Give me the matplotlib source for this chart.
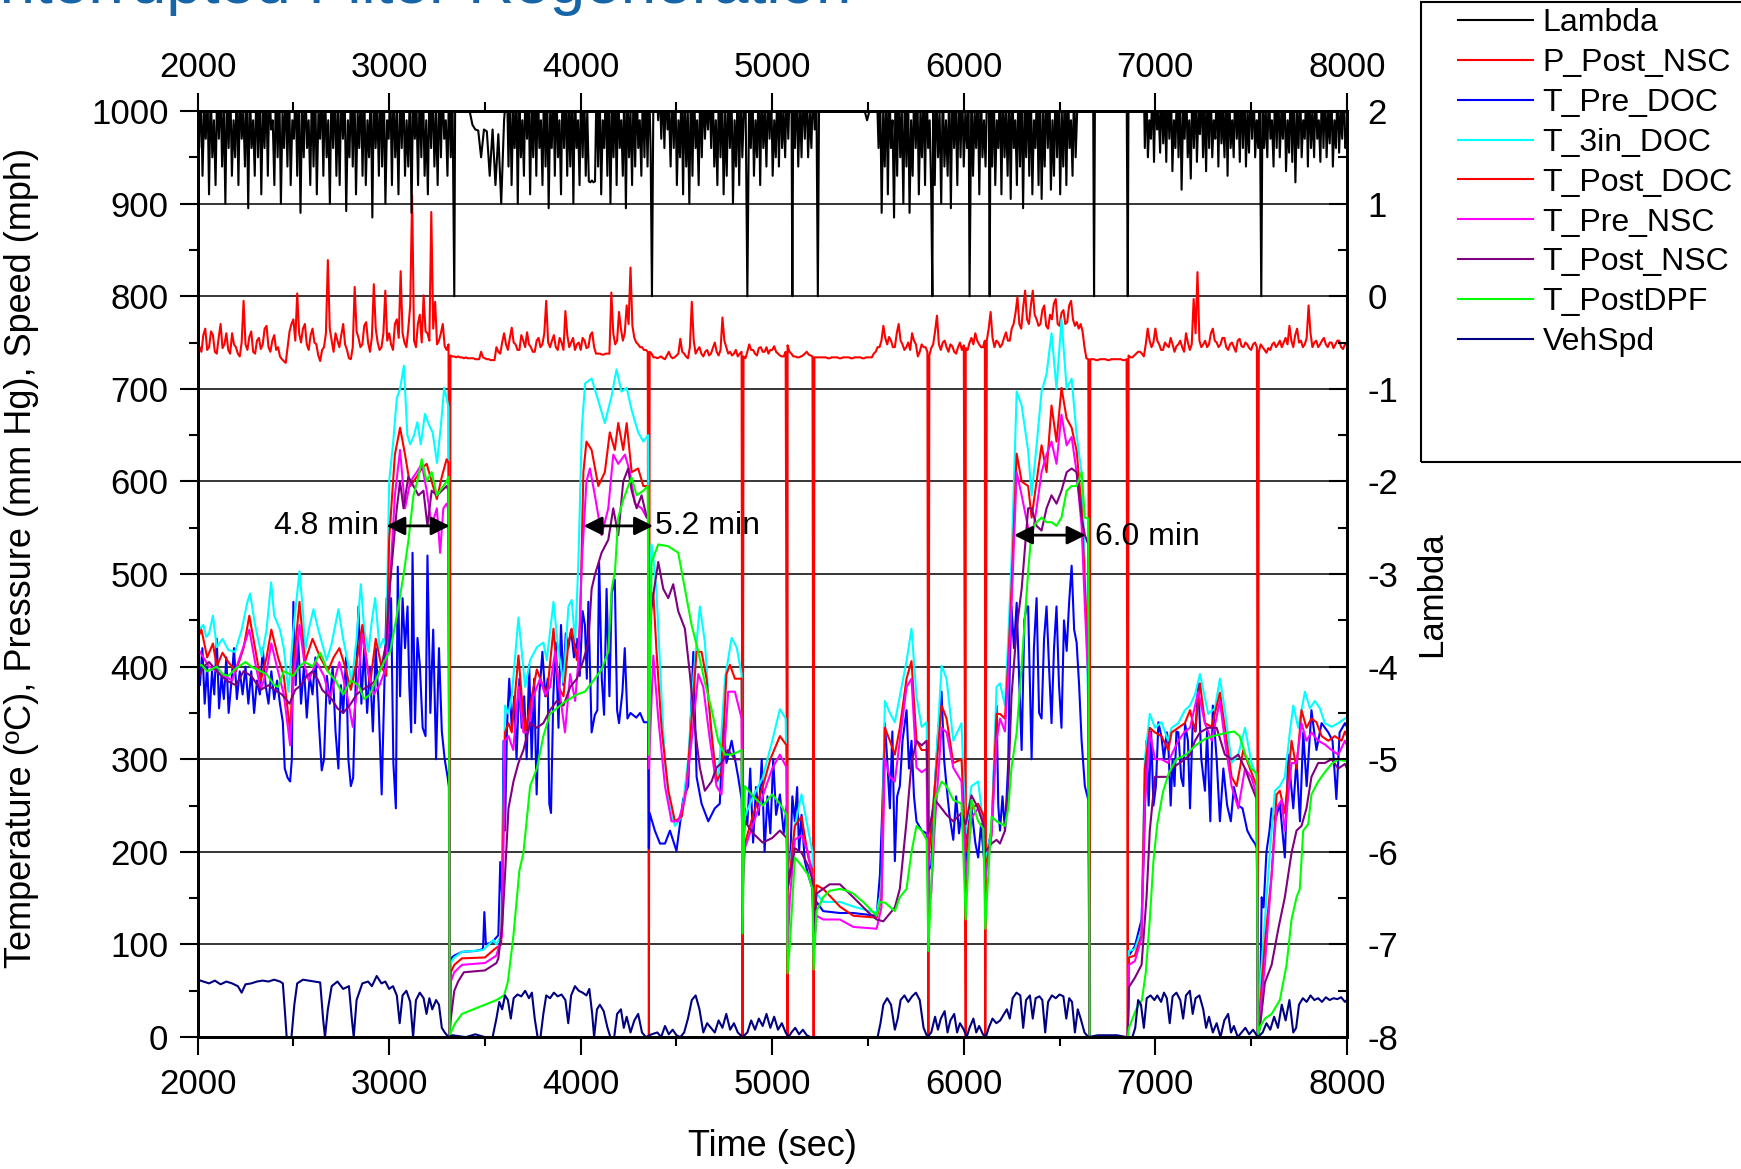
import numpy as np
import matplotlib
matplotlib.use('Agg')
import matplotlib.pyplot as plt
from matplotlib.patches import Rectangle
from matplotlib.ticker import MultipleLocator

plt.rcParams['font.family'] = ['Liberation Sans', 'DejaVu Sans']
plt.rcParams['axes.unicode_minus'] = False

# ---- lambda (right axis), spiky segments between logger dropouts ----
lam_seg1 = [2.3, 1.6, 2.3, 1.3, 2.0, 1.7, 2.3, 1.1, 2.3, 1.5, 1.9, 1.2, 2.3, 1.7, 2.3, 1.4, 2.1, 1.0, 2.3, 1.6,
            2.3, 1.3, 1.9, 1.5, 2.3, 1.2, 2.3, 1.7, 2.0, 1.4, 2.3, 0.95, 2.3, 1.6, 1.9, 1.3, 2.3, 1.5, 2.3, 1.1,
            2.1, 1.6, 2.3, 1.3, 2.3, 1.8, 1.9, 1.2, 2.3, 1.5, 2.3, 1.0, 2.0, 1.6, 2.3, 1.4, 2.3, 1.2, 1.9, 1.7,
            2.3, 1.3, 2.3, 0.9, 2.1, 1.5, 2.3, 1.6, 1.9, 1.2, 2.3, 1.4, 2.3, 1.1, 2.0, 1.7, 2.3, 1.3, 2.3, 1.5,
            1.9, 1.0, 2.3, 1.6, 2.3, 1.3, 2.1, 1.2, 2.3, 1.7, 2.3, 0.92, 1.9, 1.5, 2.3, 1.4, 2.3, 1.1, 2.0, 1.6,
            2.3, 1.3, 2.3, 1.2, 1.9, 1.5, 2.3, 0.85, 2.3, 1.6, 2.1, 1.3, 2.3, 1.4, 2.3, 1.0, 1.9, 1.7, 2.3, 1.2,
            2.3, 1.5, 2.0, 1.1, 2.3, 1.6, 2.3, 1.3, 1.9, 1.4, 2.3, 0.9, 2.3, 1.7, 2.1, 1.2, 2.3, 1.5, 2.3, 1.3,
            1.9, 1.1, 2.3, 1.6, 2.3, 1.4, 2.0, 1.2, 2.3, 1.5, 2.3, 1.7, 1.9, 1.3, 2.3, 1.5, 2.3]
lam_seg2 = [2.3, 2.3, 2.3, 2.3, 2.3, 2.0, 1.85, 1.8, 1.79, 1.5, 1.8, 1.78, 1.3, 1.8, 1.2, 1.75, 1.0, 1.9]
lam_seg3 = [2.3, 1.4, 2.3, 1.2, 2.0, 1.6, 2.3, 1.0, 2.3, 1.5, 1.9, 1.3, 2.3, 1.7, 2.3, 1.1, 2.1, 1.5, 2.3, 1.3,
            2.3, 1.6, 1.9, 1.2, 2.3, 1.4, 2.3, 0.95, 2.0, 1.6, 2.3, 1.3, 2.3, 1.5, 1.9, 1.1, 2.3, 1.6, 2.3, 1.3,
            2.1, 1.4, 2.3, 1.0, 2.3, 1.6, 1.9, 1.2, 2.3, 1.5, 2.3, 1.3, 2.0, 1.24, 1.23, 1.25, 1.23, 1.24, 2.3, 1.4,
            2.3, 1.1, 1.9, 1.6, 2.3, 1.3, 2.3, 1.0, 2.1, 1.5, 2.3, 1.2, 2.3, 1.6, 1.9, 1.3, 2.3, 0.95, 2.3, 1.5,
            2.0, 1.2, 2.3, 1.4, 2.3, 1.6, 1.9, 1.3, 2.3, 1.5, 2.3, 1.4, 2.3, 1.6]
lam_seg4 = [2.3, 2.0, 2.3, 1.9, 2.3, 1.7, 2.3, 1.6, 2.3, 1.8, 2.0, 1.4, 2.3, 1.6, 2.3, 1.2, 1.9, 1.5, 2.3, 1.1,
            2.3, 1.4, 2.0, 1.0, 2.3, 1.3, 2.3, 1.6, 1.9, 1.2, 2.3, 1.5, 2.3, 1.7, 2.1, 1.8, 2.3, 1.6, 2.3, 1.4,
            1.9, 1.2, 2.3, 1.5, 2.3, 1.1, 2.0, 1.3, 2.3, 1.6, 2.3, 1.0, 1.9, 1.4, 2.3, 1.2, 2.3, 1.5, 2.0, 2.3]
lam_seg5 = [2.3, 1.6, 2.3, 1.3, 1.9, 1.5, 2.3, 1.2, 2.3, 1.6, 2.0, 1.4, 2.3, 1.7, 2.3, 1.3, 1.9, 1.5, 2.3, 1.4,
            2.3, 1.6, 2.0, 1.5, 2.3, 1.7, 2.3, 2.3]
lam_seg6 = [2.3, 1.6, 2.3, 1.4, 2.1, 1.5, 2.3, 1.7, 2.3, 1.5, 2.0, 1.6, 2.3, 1.8, 2.3]
lam_seg7 = [2.3, 2.3, 2.3, 2.3, 2.3, 1.9, 2.3]
lam_seg8 = [1.6, 2.3, 0.9, 2.0, 1.4, 2.3, 1.1, 2.3, 1.6, 1.9, 0.85, 2.3, 1.3, 2.3, 1.5, 2.0, 1.0, 2.3, 1.4, 2.3,
            0.9, 1.9, 1.3, 2.3, 1.6, 2.3, 1.1, 2.0, 1.5, 2.3, 1.2, 2.3, 1.6, 1.9, 1.1]
lam_seg9 = [2.3, 1.2, 2.3, 1.5, 2.0, 1.0, 2.3, 1.4, 1.9, 1.3, 2.3, 0.95, 2.3, 1.6, 2.1, 1.2, 2.3, 1.5, 2.3, 1.4,
            2.0, 1.6, 2.3]
lam_seg10 = [2.3, 1.3, 2.0, 1.6, 2.3, 1.1, 2.3, 1.5, 1.9, 1.4, 2.3, 2.3]
lam_seg11 = [2.3, 1.4, 2.3, 1.2, 1.9, 1.6, 2.3, 1.1, 2.3, 1.5, 2.0, 1.3, 2.3, 1.05, 2.3, 1.6, 1.9, 1.2, 2.3, 1.4,
             2.3, 0.95, 2.1, 1.5, 2.3, 1.3, 2.3, 1.1, 1.9, 1.6, 2.3, 1.2, 2.3, 1.05, 2.0, 1.4, 2.3, 1.6, 2.3, 1.15,
             1.9, 1.3, 2.3, 1.5, 2.3, 1.1, 2.0, 1.4, 2.3, 1.2, 2.3, 1.6, 1.9, 1.3, 2.3, 1.5, 2.0, 2.3]
lam_seg12 = [2.3, 2.3]
lam_seg13 = [2.3, 2.3]
lam_seg14 = [2.3, 2.3, 2.3]
lam_seg15 = [1.6, 2.3, 1.5, 1.9, 1.7, 2.3, 1.45, 2.3, 1.8, 2.0, 1.55, 2.3, 1.65, 2.1, 1.45, 2.3, 1.7, 2.3, 1.35, 1.9,
             1.6, 2.3, 1.5, 2.3, 1.15, 2.0, 1.7, 2.3, 1.5, 1.9, 1.27, 2.3, 1.6, 2.3, 1.45, 2.0, 1.75, 2.3, 1.5, 2.1,
             1.35, 2.3, 1.6, 2.3, 1.5, 1.9, 1.7, 2.3, 1.4, 2.3, 1.65, 2.0, 1.5, 2.3, 1.3, 2.3, 1.6, 1.9, 1.5, 2.3,
             1.7, 2.1, 1.45, 2.3, 1.6, 2.3, 1.4, 2.0, 1.55, 2.3, 1.7, 2.3, 1.5, 1.9, 1.6, 2.3]
lam_seg16 = [2.3, 1.6, 2.0, 1.5, 2.3, 1.7, 1.9, 1.4, 2.3, 1.6, 2.3, 1.5, 2.0, 1.7, 2.3, 1.35, 1.9, 1.55, 2.3, 1.45,
             2.3, 1.23, 2.0, 1.6, 2.3, 1.5, 1.9, 1.7, 2.3, 1.4, 2.3, 1.6, 2.0, 1.5, 2.3, 1.7, 1.9, 1.45, 2.3, 1.6,
             2.3, 1.5, 2.0, 1.65, 2.3, 1.4, 1.9, 1.6, 2.3, 1.55, 2.0, 1.7, 2.3, 1.6, 1.8]
lam_segments = [(2000, 3330, lam_seg1), (3345, 3600, lam_seg2), (3615, 4365, lam_seg3),
                (4380, 4860, lam_seg4), (4880, 5100, lam_seg5), (5110, 5230, lam_seg6),
                (5245, 5545, lam_seg7), (5555, 5830, lam_seg8), (5840, 6025, lam_seg9),
                (6040, 6130, lam_seg10), (6140, 6600, lam_seg11), (6610, 6675, lam_seg12),
                (6685, 6850, lam_seg13), (6860, 6940, lam_seg14), (6945, 7545, lam_seg15),
                (7560, 8000, lam_seg16)]
lam_drops = [3340, 4372, 4870, 5105, 5238, 5836, 6030, 6135, 6680, 6856, 7553]

# ---- post-NSC pressure (mm Hg), every 10 s from 2000 to 8000 ----
p_post_nsc = [
    752, 745, 740, 758, 765, 742, 745, 762, 758, 740, 738, 755, 770, 744, 748, 760, 742, 738, 760, 748,
    745, 738, 735, 750, 795, 748, 742, 756, 762, 740, 738, 752, 755, 743, 748, 765, 768, 745, 740, 752,
    758, 742, 745, 735, 732, 730, 728, 745, 762, 770, 775, 752, 803, 760, 750, 765, 770, 748, 742, 758,
    765, 750, 748, 736, 730, 742, 745, 760, 839, 765, 752, 740, 760, 752, 745, 758, 770, 748, 742, 733,
    732, 745, 810, 762, 755, 745, 748, 768, 772, 750, 740, 756, 813, 765, 750, 742, 745, 760, 806, 752,
    760, 748, 742, 770, 775, 755, 827, 760, 750, 745, 765, 790, 909, 752, 745, 770, 780, 750, 801, 762,
    760, 752, 891, 765, 794, 748, 752, 760, 770, 746, 742, 748, 736, 735, 735, 734, 735, 734, 734, 733,
    734, 733, 733, 733, 733, 732, 732, 732, 740, 734, 733, 732, 732, 731, 731, 731, 745, 740, 738, 750,
    760, 748, 742, 755, 766, 750, 748, 742, 742, 758, 752, 745, 761, 748, 745, 740, 740, 752, 755, 745,
    748, 760, 795, 750, 745, 752, 758, 745, 742, 755, 750, 742, 784, 758, 745, 750, 755, 742, 748, 750,
    742, 755, 752, 744, 745, 758, 761, 745, 738, 738, 738, 737, 737, 738, 738, 738, 804, 760, 748, 752,
    783, 765, 752, 760, 790, 770, 831, 768, 755, 750, 748, 745, 745, 742, 742, 740, 740, 738, 734, 734,
    733, 734, 735, 733, 732, 736, 740, 735, 733, 734, 736, 738, 754, 740, 738, 735, 733, 745, 794, 752,
    738, 742, 745, 738, 735, 740, 742, 736, 738, 744, 750, 740, 736, 742, 777, 752, 745, 738, 740, 736,
    738, 742, 735, 738, 740, 735, 733, 740, 748, 742, 742, 738, 736, 744, 745, 740, 740, 745, 738, 742,
    742, 746, 740, 738, 736, 735, 735, 740, 747, 740, 738, 735, 735, 734, 734, 735, 736, 738, 740, 737,
    736, 735, 734, 734, 734, 734, 734, 734, 734, 733, 733, 734, 734, 734, 734, 733, 733, 734, 734, 734,
    734, 733, 733, 734, 734, 734, 734, 733, 733, 734, 734, 734, 734, 738, 740, 745, 745, 752, 768, 755,
    748, 756, 752, 745, 745, 760, 770, 752, 748, 742, 745, 750, 742, 760, 752, 748, 735, 740, 748, 745,
    745, 740, 736, 744, 748, 762, 779, 748, 742, 750, 752, 745, 740, 748, 746, 740, 738, 745, 750, 742,
    747, 744, 742, 750, 755, 748, 760, 752, 748, 745, 745, 752, 752, 765, 783, 755, 745, 752, 750, 745,
    748, 755, 761, 752, 752, 765, 770, 782, 799, 770, 765, 788, 806, 775, 770, 790, 806, 780, 775, 768,
    770, 785, 790, 768, 765, 780, 775, 792, 797, 770, 768, 782, 785, 770, 772, 790, 795, 775, 768, 772,
    765, 770, 762, 745, 733, 732, 732, 732, 732, 731, 731, 732, 732, 732, 732, 731, 731, 732, 732, 732,
    732, 732, 732, 731, 731, 732, 736, 734, 734, 736, 738, 740, 740, 738, 735, 748, 765, 752, 745, 750,
    765, 752, 748, 742, 742, 750, 747, 745, 755, 748, 740, 746, 748, 752, 745, 740, 760, 750, 742, 748,
    797, 760, 826, 752, 745, 748, 752, 745, 748, 760, 765, 752, 750, 745, 748, 755, 755, 745, 742, 748,
    750, 745, 740, 752, 754, 746, 745, 750, 748, 744, 742, 748, 750, 745, 740, 748, 745, 742, 739, 744,
    742, 748, 750, 745, 748, 752, 745, 750, 755, 748, 768, 752, 745, 758, 765, 750, 752, 745, 748, 755,
    790, 760, 745, 750, 752, 745, 748, 752, 755, 748, 745, 750, 750, 744, 748, 752, 752, 745, 743, 748,
    747]
p_drops = [3316, 4356, 4845, 5080, 5216, 5815, 6010, 6112, 6657, 6856, 7535]

# ---- temperatures (degC) and speed (mph) as (time, value) ----
t_pre_doc = [
    (2000, 410), (2012, 380), (2025, 420), (2037, 360), (2050, 400), (2062, 345), (2075, 395), (2087, 370),
    (2100, 430), (2112, 355), (2125, 390), (2137, 365), (2150, 410), (2162, 350), (2175, 380), (2190, 420),
    (2205, 365), (2220, 395), (2235, 370), (2250, 400), (2265, 360), (2280, 395), (2295, 350), (2310, 385),
    (2325, 370), (2340, 420), (2355, 380), (2370, 360), (2385, 395), (2400, 365), (2415, 385), (2430, 360),
    (2445, 340), (2455, 290), (2470, 280), (2483, 276), (2492, 300), (2500, 470), (2512, 380), (2525, 430),
    (2540, 360), (2555, 400), (2570, 345), (2585, 390), (2600, 370), (2615, 410), (2630, 350), (2648, 288),
    (2660, 300), (2675, 390), (2690, 360), (2705, 400), (2720, 330), (2735, 290), (2748, 380), (2760, 350),
    (2775, 410), (2787, 300), (2800, 271), (2812, 280), (2825, 380), (2840, 465), (2855, 360), (2870, 420),
    (2885, 350), (2900, 400), (2915, 330), (2930, 420), (2945, 360), (2961, 262), (2975, 380), (2987, 474),
    (3000, 416), (3010, 474), (3022, 296), (3035, 247), (3045, 508), (3057, 368), (3070, 474), (3083, 420),
    (3096, 465), (3105, 380), (3115, 329), (3122, 523), (3135, 339), (3148, 431), (3160, 402), (3175, 334),
    (3190, 325), (3200, 520), (3215, 350), (3230, 440), (3245, 300), (3260, 420), (3275, 330), (3290, 300),
    (3305, 281), (3312, 270), (3316, 0),
    (3322, 85), (3340, 88), (3380, 92), (3450, 93), (3490, 95), (3497, 135), (3505, 100), (3540, 103),
    (3570, 110), (3580, 189), (3590, 150), (3597, 320), (3605, 223), (3615, 334), (3627, 387), (3640, 334),
    (3653, 368), (3665, 300), (3680, 387), (3692, 334), (3705, 368), (3718, 300), (3731, 402), (3744, 300),
    (3757, 387), (3770, 262), (3785, 373), (3800, 416), (3815, 368), (3828, 387), (3836, 252), (3845, 242),
    (3857, 368), (3870, 426), (3884, 334), (3897, 445), (3910, 380), (3922, 436), (3935, 420), (3950, 440),
    (3965, 410), (3980, 430), (3995, 390), (4010, 460), (4022, 445), (4032, 387), (4040, 470), (4057, 329),
    (4074, 348), (4087, 353), (4096, 513), (4110, 387), (4122, 348), (4135, 484), (4150, 368), (4162, 479),
    (4178, 494), (4190, 353), (4200, 339), (4218, 373), (4230, 420), (4244, 344), (4260, 350), (4290, 345),
    (4310, 350), (4330, 340), (4352, 340), (4356, 204), (4360, 242), (4387, 223), (4414, 209), (4440, 209),
    (4466, 223), (4500, 201), (4535, 257), (4561, 271), (4588, 416), (4605, 281), (4631, 252), (4666, 233),
    (4700, 247), (4726, 252), (4744, 339), (4761, 296), (4788, 320), (4822, 281), (4840, 257), (4845, 200),
    (4857, 247), (4870, 230), (4885, 290), (4900, 210), (4915, 270), (4930, 240), (4945, 300), (4960, 200),
    (4975, 260), (4990, 220), (5005, 300), (5020, 240), (5040, 262), (5060, 220), (5075, 250), (5080, 175),
    (5092, 180), (5105, 260), (5118, 233), (5130, 270), (5140, 200), (5153, 240), (5170, 190), (5188, 175),
    (5210, 160), (5216, 110), (5231, 146), (5266, 136), (5353, 134), (5423, 134), (5545, 131), (5562, 175),
    (5575, 250), (5588, 339), (5600, 300), (5614, 247), (5627, 330), (5640, 190), (5652, 260), (5666, 271),
    (5680, 320), (5701, 353), (5714, 290), (5727, 320), (5740, 260), (5753, 233), (5780, 223), (5806, 220),
    (5815, 180), (5830, 185), (5849, 271), (5866, 330), (5884, 373), (5897, 300), (5910, 271), (5925, 240),
    (5945, 213), (5960, 260), (5975, 220), (5988, 242), (6010, 190), (6025, 230), (6040, 247), (6060, 210),
    (6075, 194), (6090, 230), (6102, 200), (6112, 180), (6130, 209), (6145, 223), (6160, 300), (6171, 358),
    (6180, 250), (6189, 223), (6202, 260), (6215, 223), (6232, 296), (6240, 400), (6249, 465), (6262, 420),
    (6276, 469), (6290, 380), (6302, 310), (6316, 450), (6328, 465), (6336, 465), (6345, 380), (6354, 300),
    (6366, 420), (6380, 474), (6393, 350), (6406, 344), (6419, 430), (6432, 465), (6445, 400), (6458, 339),
    (6471, 420), (6484, 465), (6497, 380), (6510, 334), (6523, 450), (6537, 417), (6550, 470), (6563, 509),
    (6576, 440), (6589, 426), (6602, 380), (6615, 320), (6632, 271), (6650, 256), (6657, 0), (6850, 0),
    (6856, 0), (6862, 88), (6893, 98), (6928, 127), (6940, 200), (6954, 320), (6965, 250), (6978, 330),
    (6990, 250), (7003, 271), (7016, 340), (7032, 324), (7045, 300), (7060, 329), (7067, 320), (7080, 250),
    (7090, 300), (7100, 271), (7110, 330), (7120, 329), (7135, 280), (7146, 271), (7155, 339), (7170, 320),
    (7181, 247), (7195, 340), (7210, 330), (7224, 382), (7240, 300), (7259, 266), (7270, 330), (7287, 233),
    (7300, 358), (7320, 300), (7337, 233), (7355, 290), (7375, 250), (7394, 233), (7410, 270), (7433, 250),
    (7455, 247), (7480, 223), (7500, 215), (7520, 209), (7530, 204), (7535, 0), (7546, 20), (7555, 151),
    (7565, 140), (7580, 200), (7596, 223), (7607, 247), (7624, 233), (7650, 252), (7676, 194), (7694, 305),
    (7720, 247), (7737, 300), (7755, 233), (7772, 329), (7790, 271), (7815, 353), (7841, 310), (7868, 339),
    (7903, 329), (7925, 320), (7945, 257), (7962, 329), (7990, 339), (8000, 335)]

t_3in_doc = [
    (2000, 477), (2010, 440), (2030, 445), (2045, 432), (2060, 436), (2080, 455), (2100, 421), (2130, 430),
    (2160, 418), (2196, 416), (2230, 440), (2260, 470), (2274, 479), (2300, 445), (2335, 411), (2360, 440),
    (2384, 491), (2400, 455), (2430, 440), (2450, 420), (2474, 373), (2500, 440), (2532, 503), (2550, 460),
    (2561, 416), (2580, 440), (2605, 462), (2630, 440), (2674, 407), (2700, 425), (2735, 462), (2760, 430),
    (2805, 383), (2830, 430), (2852, 489), (2870, 440), (2892, 416), (2910, 450), (2927, 474), (2950, 420),
    (2970, 430), (2985, 420), (3000, 600), (3020, 640), (3040, 690), (3057, 700), (3077, 725), (3095, 650),
    (3110, 640), (3130, 650), (3147, 664), (3165, 640), (3187, 673), (3210, 660), (3227, 653), (3250, 620),
    (3270, 660), (3287, 701), (3300, 690), (3310, 680), (3316, 0),
    (3322, 80), (3340, 86), (3380, 92), (3440, 93), (3490, 94), (3520, 100), (3544, 105), (3560, 100),
    (3585, 110), (3605, 358), (3623, 349), (3640, 368), (3675, 453), (3692, 416), (3710, 378), (3736, 407),
    (3771, 421), (3805, 426), (3823, 407), (3858, 470), (3884, 416), (3910, 383), (3936, 465), (3953, 472),
    (3971, 426), (3988, 513), (4006, 658), (4023, 706), (4057, 711), (4092, 687), (4126, 663), (4161, 692),
    (4187, 721), (4213, 697), (4240, 701), (4266, 677), (4300, 653), (4327, 643), (4352, 650), (4356, 450),
    (4370, 532), (4387, 503), (4396, 479), (4422, 368), (4440, 296), (4466, 247), (4492, 228), (4527, 238),
    (4561, 300), (4588, 387), (4622, 465), (4648, 427), (4683, 320), (4718, 276), (4753, 387), (4788, 431),
    (4814, 421), (4840, 392), (4845, 200), (4857, 238), (4900, 260), (4950, 280), (5000, 320), (5040, 354),
    (5070, 344), (5080, 180), (5092, 185), (5120, 230), (5153, 262), (5188, 223), (5210, 200), (5216, 120),
    (5231, 155), (5266, 146), (5353, 146), (5423, 141), (5545, 134), (5570, 160), (5588, 363), (5614, 350),
    (5640, 340), (5666, 368), (5701, 406), (5727, 441), (5753, 368), (5780, 335), (5806, 340), (5815, 200),
    (5849, 271), (5884, 401), (5910, 387), (5945, 320), (5988, 339), (6010, 220), (6040, 271), (6075, 276),
    (6102, 230), (6112, 190), (6145, 223), (6171, 378), (6189, 382), (6215, 358), (6232, 431), (6249, 513),
    (6276, 697), (6302, 682), (6336, 633), (6354, 585), (6380, 639), (6406, 697), (6432, 716), (6458, 760),
    (6484, 700), (6510, 775), (6537, 700), (6563, 711), (6589, 650), (6615, 609), (6632, 513), (6650, 353),
    (6657, 0), (6850, 0),
    (6856, 0), (6862, 93), (6893, 95), (6928, 116), (6945, 300), (6971, 349), (6998, 334), (7032, 340),
    (7067, 320), (7085, 334), (7120, 339), (7154, 353), (7181, 358), (7207, 370), (7233, 392), (7276, 349),
    (7311, 355), (7337, 387), (7363, 353), (7398, 296), (7433, 305), (7468, 334), (7502, 296), (7529, 281),
    (7535, 0), (7546, 54), (7572, 127), (7598, 199), (7624, 266), (7650, 271), (7676, 281), (7702, 329),
    (7720, 358), (7746, 334), (7781, 373), (7807, 355), (7833, 363), (7859, 355), (7885, 339), (7920, 335),
    (7955, 339), (7990, 344), (8000, 345)]

t_post_doc = [
    (2000, 430), (2020, 440), (2050, 410), (2080, 425), (2100, 400), (2130, 415), (2160, 405), (2200, 395),
    (2240, 420), (2270, 455), (2300, 420), (2330, 385), (2360, 410), (2385, 440), (2420, 410), (2450, 390),
    (2483, 330), (2500, 400), (2532, 470), (2560, 405), (2600, 430), (2640, 410), (2680, 395), (2710, 410),
    (2740, 420), (2770, 400), (2800, 375), (2830, 405), (2860, 445), (2880, 410), (2900, 380), (2930, 430),
    (2960, 400), (2985, 390), (3000, 537), (3030, 629), (3057, 658), (3083, 629), (3110, 595), (3144, 605),
    (3170, 614), (3196, 619), (3222, 600), (3249, 581), (3275, 605), (3300, 624), (3310, 620), (3316, 0),
    (3322, 70), (3340, 78), (3380, 85), (3500, 86), (3550, 95), (3585, 100), (3605, 329), (3623, 339),
    (3640, 329), (3675, 412), (3692, 368), (3710, 329), (3736, 358), (3771, 397), (3805, 378), (3823, 368),
    (3858, 441), (3884, 378), (3910, 368), (3936, 426), (3953, 441), (3980, 407), (3997, 445), (4014, 610),
    (4030, 643), (4057, 634), (4092, 595), (4126, 610), (4152, 653), (4178, 634), (4196, 663), (4222, 634),
    (4240, 663), (4266, 610), (4300, 614), (4327, 595), (4352, 595), (4356, 400), (4370, 465), (4379, 480),
    (4396, 416), (4422, 334), (4457, 267), (4492, 233), (4527, 238), (4553, 271), (4579, 344), (4605, 416),
    (4631, 416), (4657, 387), (4683, 329), (4709, 276), (4735, 286), (4761, 392), (4779, 402), (4805, 387),
    (4840, 387), (4845, 180), (4857, 209), (4900, 240), (4950, 270), (4990, 300), (5030, 320), (5040, 325),
    (5075, 315), (5080, 160), (5092, 175), (5118, 228), (5153, 238), (5188, 194), (5210, 180), (5216, 110),
    (5231, 164), (5266, 160), (5353, 141), (5423, 131), (5545, 129), (5570, 150), (5588, 334), (5614, 320),
    (5640, 305), (5666, 334), (5701, 387), (5727, 406), (5753, 320), (5780, 310), (5806, 310), (5815, 190),
    (5849, 271), (5884, 358), (5910, 344), (5945, 296), (5988, 300), (6010, 200), (6040, 247), (6075, 252),
    (6102, 240), (6112, 180), (6145, 220), (6171, 349), (6189, 349), (6215, 344), (6232, 406), (6249, 484),
    (6276, 630), (6302, 600), (6336, 595), (6354, 561), (6380, 600), (6406, 639), (6432, 610), (6458, 682),
    (6484, 643), (6510, 701), (6537, 668), (6563, 658), (6589, 633), (6615, 571), (6632, 489), (6650, 402),
    (6657, 0), (6850, 0),
    (6856, 0), (6862, 86), (6893, 88), (6928, 110), (6945, 290), (6971, 334), (6998, 329), (7032, 325),
    (7067, 310), (7085, 329), (7120, 334), (7154, 339), (7181, 353), (7207, 330), (7233, 382), (7259, 339),
    (7294, 335), (7337, 372), (7363, 334), (7398, 281), (7424, 271), (7459, 310), (7494, 290), (7529, 271),
    (7535, 0), (7546, 30), (7572, 102), (7607, 175), (7633, 262), (7650, 266), (7676, 242), (7711, 320),
    (7737, 290), (7763, 353), (7789, 334), (7815, 344), (7841, 340), (7868, 325), (7903, 320), (7937, 325),
    (7972, 320), (7990, 330), (8000, 325)]

t_pre_nsc = [
    (2000, 420), (2030, 410), (2060, 400), (2100, 395), (2140, 390), (2180, 385), (2220, 410), (2270, 440),
    (2300, 405), (2330, 375), (2360, 395), (2385, 425), (2420, 395), (2450, 370), (2483, 315), (2500, 385),
    (2532, 445), (2560, 400), (2580, 385), (2620, 405), (2660, 390), (2690, 365), (2720, 390), (2740, 405),
    (2780, 370), (2810, 335), (2840, 390), (2860, 435), (2890, 395), (2920, 370), (2950, 380), (2985, 400),
    (3005, 494), (3030, 585), (3057, 634), (3083, 571), (3110, 600), (3144, 610), (3170, 619), (3196, 590),
    (3222, 552), (3249, 571), (3266, 523), (3283, 571), (3300, 576), (3310, 570), (3316, 0),
    (3322, 60), (3340, 70), (3380, 78), (3500, 80), (3560, 88), (3590, 110), (3605, 320), (3623, 325),
    (3648, 310), (3675, 378), (3701, 329), (3727, 329), (3753, 368), (3788, 387), (3814, 370), (3840, 378),
    (3866, 416), (3892, 370), (3918, 329), (3945, 392), (3971, 363), (3988, 407), (4006, 513), (4030, 600),
    (4048, 614), (4074, 585), (4109, 542), (4144, 571), (4170, 629), (4196, 619), (4231, 629), (4257, 610),
    (4283, 576), (4318, 571), (4345, 561), (4352, 560), (4356, 290), (4379, 412), (4405, 344), (4440, 271),
    (4474, 233), (4509, 233), (4544, 257), (4579, 320), (4614, 392), (4640, 378), (4675, 320), (4709, 271),
    (4735, 262), (4770, 373), (4805, 373), (4840, 344), (4845, 150), (4857, 204), (4900, 230), (4950, 260),
    (5000, 290), (5040, 305), (5075, 291), (5080, 95), (5092, 150), (5118, 213), (5153, 218), (5188, 199),
    (5210, 170), (5216, 90), (5231, 131), (5266, 127), (5353, 127), (5423, 119), (5545, 117), (5570, 140),
    (5588, 300), (5614, 281), (5640, 276), (5666, 320), (5701, 378), (5727, 387), (5753, 291), (5780, 286),
    (5806, 290), (5815, 140), (5830, 155), (5849, 230), (5884, 334), (5910, 329), (5945, 291), (5988, 276),
    (6010, 170), (6040, 237), (6075, 247), (6102, 230), (6112, 170), (6145, 218), (6171, 320), (6189, 344),
    (6215, 330), (6232, 392), (6249, 465), (6276, 610), (6302, 585), (6336, 550), (6354, 537), (6380, 571),
    (6406, 610), (6432, 629), (6458, 643), (6484, 619), (6510, 672), (6537, 639), (6563, 648), (6589, 610),
    (6615, 552), (6632, 465), (6650, 383), (6657, 0), (6850, 0),
    (6856, 0), (6862, 78), (6893, 82), (6928, 107), (6945, 250), (6971, 329), (6998, 300), (7032, 300),
    (7067, 296), (7085, 305), (7120, 320), (7154, 330), (7181, 334), (7224, 373), (7259, 339), (7294, 320),
    (7337, 363), (7363, 320), (7398, 271), (7433, 247), (7468, 290), (7502, 280), (7529, 262), (7535, 0),
    (7546, 25), (7572, 78), (7607, 175), (7633, 247), (7659, 256), (7676, 223), (7711, 296), (7737, 296),
    (7763, 339), (7789, 320), (7815, 329), (7850, 320), (7885, 316), (7920, 310), (7955, 305), (7990, 320),
    (8000, 315)]

t_post_nsc = [
    (2000, 385), (2030, 400), (2060, 405), (2100, 395), (2150, 385), (2200, 380), (2240, 395), (2280, 390),
    (2330, 375), (2370, 380), (2400, 375), (2440, 370), (2480, 360), (2510, 375), (2540, 380), (2570, 390),
    (2600, 395), (2630, 385), (2650, 375), (2700, 365), (2730, 355), (2760, 350), (2800, 360), (2830, 370),
    (2860, 375), (2900, 380), (2930, 385), (2960, 400), (2985, 426), (3005, 489), (3025, 537), (3040, 571),
    (3057, 600), (3075, 571), (3100, 605), (3127, 595), (3153, 585), (3179, 590), (3200, 552), (3222, 590),
    (3250, 585), (3275, 590), (3300, 595), (3310, 590), (3316, 0),
    (3322, 20), (3340, 50), (3360, 60), (3390, 70), (3500, 72), (3560, 80), (3570, 85), (3590, 120),
    (3605, 175), (3623, 247), (3649, 276), (3675, 296), (3701, 310), (3736, 339), (3771, 334), (3805, 339),
    (3840, 353), (3875, 363), (3910, 358), (3945, 378), (3980, 387), (4014, 407), (4040, 426), (4057, 484),
    (4074, 499), (4109, 523), (4144, 537), (4170, 571), (4196, 542), (4222, 600), (4248, 614), (4266, 590),
    (4292, 571), (4318, 585), (4345, 561), (4352, 560), (4356, 450), (4370, 465), (4387, 489), (4405, 513),
    (4431, 484), (4457, 474), (4483, 489), (4509, 460), (4544, 441), (4570, 392), (4596, 334), (4622, 291),
    (4648, 266), (4683, 276), (4709, 291), (4735, 296), (4770, 310), (4805, 300), (4840, 300), (4845, 200),
    (4857, 233), (4900, 220), (4950, 210), (5000, 215), (5040, 223), (5075, 215), (5080, 160), (5118, 204),
    (5153, 199), (5188, 185), (5210, 170), (5216, 110), (5231, 155), (5266, 160), (5300, 165), (5353, 165),
    (5423, 151), (5500, 135), (5545, 127), (5580, 125), (5640, 140), (5666, 160), (5701, 233), (5727, 296),
    (5753, 320), (5780, 315), (5806, 320), (5815, 220), (5849, 256), (5884, 247), (5910, 240), (5945, 233),
    (5988, 242), (6010, 230), (6040, 261), (6075, 247), (6102, 230), (6112, 200), (6145, 209), (6171, 213),
    (6189, 209), (6215, 223), (6232, 271), (6249, 368), (6276, 441), (6302, 484), (6336, 571), (6354, 571),
    (6380, 552), (6406, 547), (6432, 571), (6458, 585), (6484, 576), (6510, 590), (6537, 610), (6563, 614),
    (6589, 610), (6615, 561), (6632, 542), (6650, 532), (6657, 0), (6850, 0),
    (6856, 0), (6862, 54), (6893, 64), (6928, 78), (6954, 151), (6971, 223), (6998, 281), (7032, 281),
    (7067, 281), (7085, 290), (7120, 295), (7154, 300), (7181, 305), (7207, 320), (7233, 329), (7276, 334),
    (7320, 334), (7363, 305), (7398, 300), (7433, 305), (7468, 290), (7502, 271), (7529, 257), (7535, 0),
    (7546, 10), (7572, 59), (7607, 78), (7642, 117), (7676, 151), (7711, 199), (7737, 223), (7763, 228),
    (7789, 247), (7815, 281), (7850, 296), (7885, 296), (7920, 300), (7955, 290), (7990, 295), (8000, 290)]

t_post_dpf = [
    (2000, 400), (2020, 402), (2050, 395), (2080, 398), (2100, 400), (2130, 392), (2160, 390), (2200, 398),
    (2250, 405), (2280, 400), (2300, 398), (2330, 395), (2360, 392), (2400, 380), (2420, 378), (2450, 395),
    (2480, 392), (2500, 390), (2530, 400), (2560, 405), (2600, 400), (2640, 415), (2680, 395), (2720, 385),
    (2760, 370), (2800, 385), (2840, 380), (2870, 365), (2900, 370), (2950, 395), (2985, 410), (3005, 416),
    (3040, 455), (3075, 499), (3101, 537), (3127, 585), (3153, 605), (3170, 624), (3196, 600), (3222, 610),
    (3249, 585), (3283, 595), (3300, 600), (3310, 605), (3316, 0),
    (3322, 5), (3345, 15), (3380, 25), (3440, 30), (3500, 35), (3560, 40), (3600, 45), (3620, 60),
    (3649, 110), (3680, 180), (3701, 199), (3736, 271), (3771, 290), (3805, 325), (3840, 349), (3910, 361),
    (3980, 370), (4022, 373), (4074, 387), (4109, 397), (4144, 416), (4162, 484), (4179, 503), (4196, 561),
    (4222, 580), (4248, 595), (4266, 604), (4292, 585), (4327, 590), (4350, 595), (4356, 305), (4370, 513),
    (4405, 532), (4457, 530), (4509, 523), (4544, 484), (4579, 445), (4614, 416), (4648, 383), (4683, 354),
    (4718, 320), (4753, 305), (4788, 305), (4822, 308), (4840, 310), (4845, 112), (4857, 271), (4900, 260),
    (4950, 250), (5000, 262), (5040, 252), (5075, 240), (5080, 69), (5092, 100), (5118, 194), (5153, 185),
    (5188, 175), (5210, 160), (5216, 73), (5231, 136), (5266, 151), (5300, 158), (5353, 160), (5390, 158),
    (5423, 155), (5480, 145), (5545, 131), (5562, 146), (5590, 145), (5640, 136), (5666, 151), (5701, 160),
    (5727, 200), (5753, 228), (5780, 223), (5806, 213), (5815, 93), (5849, 256), (5884, 276), (5910, 271),
    (5945, 256), (5988, 252), (6010, 127), (6040, 256), (6075, 233), (6102, 225), (6112, 117), (6145, 238),
    (6171, 233), (6215, 228), (6232, 247), (6249, 291), (6276, 329), (6302, 401), (6336, 503), (6354, 547),
    (6380, 556), (6406, 561), (6432, 556), (6458, 556), (6484, 552), (6510, 561), (6537, 590), (6563, 595),
    (6589, 595), (6615, 610), (6632, 561), (6650, 560), (6657, 0), (6850, 0),
    (6856, 0), (6862, 10), (6900, 30), (6930, 40), (6950, 70), (6971, 127), (6990, 190), (7010, 230),
    (7040, 265), (7070, 285), (7110, 300), (7160, 305), (7210, 315), (7260, 322), (7300, 325), (7360, 328),
    (7410, 330), (7440, 325), (7470, 305), (7500, 290), (7529, 285), (7535, 0), (7546, 11), (7572, 20),
    (7607, 25), (7650, 40), (7685, 78), (7711, 127), (7737, 151), (7754, 160), (7772, 223), (7798, 230),
    (7815, 262), (7850, 276), (7885, 286), (7920, 295), (7955, 300), (7990, 298), (8000, 300)]

veh_spd = [
    (2000, 62), (2030, 60), (2060, 58), (2090, 61), (2120, 57), (2150, 60), (2180, 58), (2210, 55),
    (2230, 48), (2250, 57), (2280, 58), (2310, 60), (2340, 61), (2370, 60), (2400, 62), (2430, 60),
    (2445, 58), (2455, 30), (2465, 0), (2490, 0), (2505, 35), (2520, 58), (2550, 62), (2580, 61),
    (2610, 60), (2640, 59), (2655, 20), (2665, 0), (2680, 30), (2700, 55), (2730, 60), (2760, 52),
    (2790, 55), (2805, 20), (2815, 0), (2830, 40), (2860, 58), (2890, 60), (2910, 55), (2935, 66),
    (2960, 58), (2980, 60), (3000, 52), (3020, 55), (3040, 45), (3055, 15), (3070, 45), (3090, 50),
    (3110, 38), (3125, 0), (3140, 40), (3160, 48), (3180, 42), (3195, 25), (3210, 42), (3225, 30),
    (3245, 40), (3260, 35), (3275, 10), (3290, 5), (3310, 0), (3330, 2), (3400, 0), (3450, 3),
    (3500, 0), (3540, 0), (3560, 20), (3575, 38), (3590, 30), (3605, 45), (3620, 40), (3635, 20),
    (3650, 42), (3670, 46), (3690, 44), (3710, 50), (3730, 42), (3745, 48), (3760, 20), (3775, 0),
    (3790, 0), (3805, 25), (3820, 45), (3840, 42), (3860, 48), (3880, 44), (3900, 46), (3920, 40),
    (3935, 15), (3950, 45), (3970, 55), (3990, 50), (4010, 48), (4030, 45), (4045, 52), (4060, 25),
    (4070, 0), (4085, 30), (4100, 35), (4120, 28), (4140, 10), (4155, 0), (4175, 0), (4190, 25),
    (4210, 30), (4225, 10), (4240, 22), (4260, 5), (4280, 18), (4300, 25), (4320, 5), (4340, 0),
    (4370, 3), (4400, 5), (4420, 0), (4440, 12), (4460, 3), (4480, 8), (4500, 2), (4520, 0),
    (4540, 5), (4560, 20), (4580, 40), (4600, 45), (4620, 30), (4640, 5), (4660, 15), (4680, 10),
    (4700, 5), (4720, 18), (4740, 10), (4760, 25), (4780, 8), (4800, 15), (4820, 5), (4845, 0),
    (4870, 5), (4890, 18), (4910, 8), (4930, 20), (4950, 12), (4970, 25), (4990, 10), (5010, 22),
    (5030, 8), (5050, 15), (5070, 5), (5085, 0), (5100, 5), (5120, 10), (5140, 3), (5160, 8),
    (5180, 2), (5200, 0), (5550, 0), (5565, 15), (5580, 35), (5600, 42), (5620, 35), (5640, 8),
    (5655, 20), (5670, 40), (5690, 45), (5710, 38), (5730, 44), (5750, 48), (5770, 40), (5790, 10),
    (5810, 0), (5830, 5), (5850, 22), (5865, 8), (5880, 20), (5900, 28), (5915, 5), (5930, 18),
    (5950, 25), (5965, 5), (5980, 15), (6000, 8), (6015, 0), (6030, 10), (6050, 20), (6065, 5),
    (6080, 12), (6100, 3), (6115, 0), (6130, 10), (6150, 20), (6170, 15), (6190, 18), (6210, 25),
    (6225, 30), (6240, 20), (6255, 42), (6275, 48), (6295, 45), (6310, 10), (6325, 40), (6345, 45),
    (6360, 20), (6375, 42), (6395, 44), (6410, 40), (6425, 5), (6440, 38), (6460, 45), (6480, 42),
    (6500, 46), (6520, 44), (6535, 20), (6550, 42), (6565, 38), (6580, 5), (6595, 30), (6610, 20),
    (6630, 5), (6650, 0), (6700, 2), (6800, 2), (6850, 0), (6880, 0), (6895, 10), (6910, 40),
    (6925, 35), (6940, 10), (6955, 42), (6975, 45), (6995, 40), (7010, 45), (7030, 38), (7045, 48),
    (7060, 42), (7075, 15), (7090, 44), (7110, 48), (7130, 40), (7145, 20), (7160, 45), (7180, 50),
    (7195, 25), (7210, 42), (7230, 45), (7250, 30), (7265, 10), (7280, 22), (7300, 5), (7320, 15),
    (7340, 0), (7360, 18), (7380, 25), (7395, 5), (7410, 12), (7430, 0), (7470, 10), (7490, 3),
    (7510, 8), (7535, 0), (7560, 5), (7580, 15), (7600, 8), (7620, 22), (7640, 10), (7660, 35),
    (7680, 18), (7700, 40), (7720, 5), (7735, 10), (7750, 35), (7770, 42), (7790, 38), (7810, 45),
    (7830, 40), (7850, 42), (7870, 38), (7890, 43), (7910, 40), (7930, 42), (7950, 41), (7970, 43),
    (7990, 38), (8000, 40)]

# duration arrows: (start, end, level, text)
regen_marks = [(2985, 3316, 552, '4.8 min'), (4015, 4378, 552, '5.2 min'), (6262, 6636, 542, '6.0 min')]


def xy(pairs):
    a = np.array(sorted(pairs), dtype=float)
    return a[:, 0], a[:, 1]


# assemble lambda with its dropouts to zero
lam_t, lam_v = [], []
for t0, t1, vals in lam_segments:
    lam_t.extend(np.linspace(t0, t1, len(vals)))
    lam_v.extend(vals)
lam_t.extend(lam_drops)
lam_v.extend([0.0] * len(lam_drops))
order = np.argsort(lam_t)
lam_t = np.array(lam_t)[order]
lam_v = np.array(lam_v)[order]

p_t = list(np.linspace(2000, 8000, len(p_post_nsc))) + p_drops
p_v = list(p_post_nsc) + [0] * len(p_drops)
order = np.argsort(p_t)
p_t = np.array(p_t)[order]
p_v = np.array(p_v)[order]

W, H = 1741, 1169
fig = plt.figure(figsize=(W / 100, H / 100), dpi=100)
L, R, T, B = 197.6, 1346.9, 111.0, 1037.1
ax = fig.add_axes([L / W, 1 - B / H, (R - L) / W, (B - T) / H])
ax2 = ax.twinx()

lw = 1.5
lines = []
lines += ax2.plot(lam_t, lam_v, color='black', lw=1.5, label='Lambda')
lines += ax.plot(p_t, p_v, color='#ff0000', lw=lw, label='P_Post_NSC')
for pairs, col, name in [(t_pre_doc, '#0000ff', 'T_Pre_DOC'),
                         (t_3in_doc, '#00ffff', 'T_3in_DOC'),
                         (t_post_doc, '#ff0000', 'T_Post_DOC'),
                         (t_pre_nsc, '#ff00ff', 'T_Pre_NSC'),
                         (t_post_nsc, '#800080', 'T_Post_NSC'),
                         (t_post_dpf, '#00ff00', 'T_PostDPF'),
                         (veh_spd, '#000080', 'VehSpd')]:
    x, y = xy(pairs)
    lines += ax.plot(x, y, color=col, lw=lw, label=name)

ax.set_xlim(2000, 8000)
ax.set_ylim(0, 1000)
ax2.set_ylim(-8, 2)
ax.xaxis.set_major_locator(MultipleLocator(1000))
ax.xaxis.set_minor_locator(MultipleLocator(500))
ax.yaxis.set_major_locator(MultipleLocator(100))
ax.yaxis.set_minor_locator(MultipleLocator(50))
ax2.yaxis.set_major_locator(MultipleLocator(1))
ax2.yaxis.set_minor_locator(MultipleLocator(0.5))
ax.yaxis.grid(True, which='major', color='black', lw=1.1)

fs = 25
ax.tick_params(axis='both', which='major', direction='out', length=13, width=1.5, labelsize=fs, pad=8)
ax.tick_params(axis='both', which='minor', direction='out', length=6.5, width=1.5)
ax.tick_params(axis='x', which='major', pad=9)
ax.tick_params(axis='y', right=False)
ax2.tick_params(axis='y', which='major', direction='in', length=13, width=1.5, labelsize=fs, pad=15)
ax2.tick_params(axis='y', which='minor', direction='in', length=6.5, width=1.5)

top = ax.secondary_xaxis('top')
top.xaxis.set_major_locator(MultipleLocator(1000))
top.xaxis.set_minor_locator(MultipleLocator(500))
top.tick_params(which='major', direction='out', length=13, width=1.5, labelsize=fs, pad=6.5)
top.tick_params(which='minor', direction='out', length=6.5, width=1.5)

for a in (ax, ax2, top):
    for s in a.spines.values():
        s.set_linewidth(2.0)

for t0, t1, lev, txt in regen_marks:
    ax.annotate('', xy=(t1, lev), xytext=(t0, lev),
                arrowprops=dict(arrowstyle='<|-|>', color='black', lw=2, mutation_scale=28,
                                shrinkA=0, shrinkB=0))
ax.text(2945, 552, regen_marks[0][3], fontsize=23, ha='right', va='center')
ax.text(4388, 552, regen_marks[1][3], fontsize=23, ha='left', va='center')
ax.text(6684, 540, regen_marks[2][3], fontsize=23, ha='left', va='center')

fig.text(22 / W, 1 - 558 / H, 'Temperature (ºC), Pressure (mm Hg), Speed (mph)',
         rotation=90, fontsize=26, ha='center', va='center')
fig.text(772 / W, 1 - 1147 / H, 'Time (sec)', fontsize=26, ha='center', va='center')
fig.text(1432 / W, 1 - 594 / H, 'Lambda', rotation=90, fontsize=fs, ha='center', va='center')
fig.text(-18 / W, 1 - 3 / H, 'Interrupted Filter Regeneration', fontsize=46,
         color='#1565a8', ha='left', va='baseline')

fig.legend(lines, [l.get_label() for l in lines], loc='upper left',
           bbox_to_anchor=(1458 / W, 1 - 8 / H), frameon=False, fontsize=23,
           handlelength=2.35, handletextpad=0.3, labelspacing=0.31, borderpad=0, borderaxespad=0)
fig.add_artist(Rectangle((1421 / W, 1 - 462 / H), 400 / W, 460 / H, transform=fig.transFigure,
                         fill=False, lw=1.5, ec='black'))

fig.savefig('out.png', dpi=100)
